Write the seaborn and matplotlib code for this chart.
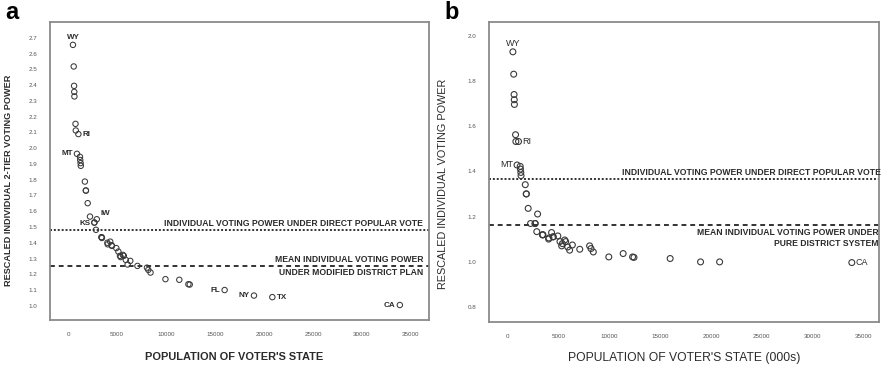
import matplotlib
matplotlib.use("Agg")
import numpy as np
import pandas as pd
import matplotlib.pyplot as plt
from matplotlib.ticker import MultipleLocator
import seaborn as sns

# ------------------------------
# data (population in thousands, rescaled voting power)
# ------------------------------
states = ["WY", "DC", "VT", "AK", "ND", "SD", "DE", "MT", "RI", "HI", "NH", "ME", "ID",
          "NE", "WV", "NM", "NV", "UT", "AR", "KS", "MS", "IA", "CT", "OR", "OK",
          "SC", "KY", "CO", "AL", "LA", "MN", "AZ", "MD", "WI", "MO", "TN", "WA",
          "IN", "MA", "VA", "NC", "GA", "NJ", "MI", "OH", "PA", "IL", "FL", "NY",
          "TX", "CA"]
population = [494, 572, 609, 627, 642, 755, 784, 902, 1048, 1212, 1236, 1275, 1294,
              1711, 1808, 1819, 1998, 2233, 2673, 2688, 2845, 2926, 3406, 3421, 3451,
              4012, 4042, 4301, 4447, 4469, 4919, 5131, 5296, 5364, 5595, 5689, 5894,
              6080, 6349, 7079, 8049, 8186, 8414, 9938, 11353, 12281, 12419, 15982,
              18976, 20852, 33872]

# panel a: two-tier voting power under modified district plan
power_a = [2.655, 2.518, 2.395, 2.357, 2.328, 2.154, 2.112, 1.964, 2.089, 1.945, 1.925,
           1.905, 1.888, 1.788, 1.731, 1.731, 1.651, 1.566, 1.528, 1.528, 1.482, 1.549,
           1.435, 1.435, 1.430, 1.400, 1.390, 1.407, 1.384, 1.380, 1.366, 1.344, 1.317,
           1.309, 1.323, 1.317, 1.291, 1.262, 1.285, 1.253, 1.242, 1.228, 1.211, 1.169,
           1.165, 1.137, 1.135, 1.100, 1.065, 1.055, 1.005]

# panel b: voting power under pure district system
power_b = [1.929, 1.830, 1.740, 1.717, 1.696, 1.562, 1.532, 1.428, 1.532, 1.422, 1.410,
           1.395, 1.381, 1.341, 1.300, 1.300, 1.236, 1.169, 1.169, 1.169, 1.133, 1.211,
           1.119, 1.119, 1.119, 1.100, 1.105, 1.129, 1.110, 1.110, 1.114, 1.089, 1.070,
           1.080, 1.096, 1.089, 1.065, 1.051, 1.074, 1.055, 1.070, 1.058, 1.043, 1.021,
           1.036, 1.021, 1.019, 1.014, 0.999, 0.999, 0.996]

direct_a, district_a = 1.482, 1.253
direct_b, district_b = 1.366, 1.163

df = pd.DataFrame({"state": states, "pop": population, "a": power_a, "b": power_b})

# ------------------------------
# figure
# ------------------------------
sns.set_style("white")
plt.rcParams['font.family'] = ['Liberation Sans', 'DejaVu Sans']

W, H = 881, 366
fig = plt.figure(figsize=(W / 100, H / 100), dpi=100)
ax1 = fig.add_axes([50 / W, 1 - 320 / H, (429 - 50) / W, (320 - 22) / H])
ax2 = fig.add_axes([489 / W, 1 - 322 / H, (879 - 489) / W, (322 - 22) / H])

TXT = '#2b2b2b'
PT = '#3a3a3a'

for ax in (ax1, ax2):
    for s in ax.spines.values():
        s.set_color('#8a8a8a')
        s.set_linewidth(1.3)
    ax.tick_params(direction='out', length=3, width=0.8, color='#555555',
                   labelsize=4.5, labelcolor='#555555', pad=6)

# ── Panel a ──
sns.scatterplot(data=df, x="pop", y="a", ax=ax1, s=15, marker='o',
                facecolors='none', edgecolor=PT, linewidth=0.75, legend=False)
ax1.axhline(direct_a, color='#333333', lw=1.4, ls=(0, (1, 1)))
ax1.axhline(district_a, color='#333333', lw=1.4, ls=(0, (2.5, 2)))
ax1.set_xlim(-1850, 36850)
ax1.set_ylim(0.91, 2.80)
ax1.set_xticks(np.arange(0, 35001, 5000))
ax1.set_yticks(np.round(np.arange(1.0, 2.71, 0.1), 1))
ax1.set_yticklabels([f'{v:.1f}' for v in np.arange(1.0, 2.71, 0.1)])
ax1.set_xlabel("POPULATION OF VOTER'S STATE", fontsize=7.9, fontweight='bold',
               color=TXT)
ax1.set_ylabel("RESCALED INDIVIDUAL 2-TIER VOTING POWER", fontsize=6.6,
               fontweight='bold', color=TXT)
ax1.yaxis.set_label_coords(-0.098, 0.47)
ax1.xaxis.set_label_coords(0.487, -0.108)

fs = 6.2
ax1.text(0.985, direct_a + 0.012, "INDIVIDUAL VOTING POWER UNDER DIRECT POPULAR VOTE",
         transform=ax1.get_yaxis_transform(), ha='right', va='bottom',
         fontsize=fs, fontweight='bold', color=TXT)
ax1.text(0.985, district_a + 0.012, "MEAN INDIVIDUAL VOTING POWER",
         transform=ax1.get_yaxis_transform(), ha='right', va='bottom',
         fontsize=fs, fontweight='bold', color=TXT)
ax1.text(0.985, district_a - 0.015, "UNDER MODIFIED DISTRICT PLAN",
         transform=ax1.get_yaxis_transform(), ha='right', va='top',
         fontsize=fs, fontweight='bold', color=TXT)

# state labels (offsets in points)
lab_a = {"WY": (0, 5, 'center'), "RI": (3, 0, 'left'), "MT": (-3, 0, 'right'),
         "KS": (-3, -1, 'right'), "IA": (3, 4, 'left'), "FL": (-3, 0, 'right'),
         "NY": (-3, 0, 'right'), "TX": (3, 0, 'left'), "CA": (-3, 0, 'right')}
for st, (dx, dy, ha) in lab_a.items():
    r = df[df.state == st].iloc[0]
    name = "IW" if st == "IA" else st
    ax1.annotate(name, (r["pop"], r["a"]), xytext=(dx, dy), textcoords='offset points',
                 ha=ha, va='center', fontsize=5.8, fontweight='bold', color=TXT)

# ── Panel b ──
sns.scatterplot(data=df, x="pop", y="b", ax=ax2, s=18, marker='o',
                facecolors='none', edgecolor=PT, linewidth=0.8, legend=False)
ax2.axhline(direct_b, color='#333333', lw=1.4, ls=(0, (1, 1)))
ax2.axhline(district_b, color='#333333', lw=1.4, ls=(0, (2.5, 2)))
ax2.set_xlim(-1860, 36550)
ax2.set_ylim(0.733, 2.061)
ax2.set_xticks(np.arange(0, 35001, 5000))
ax2.xaxis.set_minor_locator(MultipleLocator(2500))
ax2.set_yticks([0.8, 1.0, 1.2, 1.4, 1.6, 1.8, 2.0])
ax2.yaxis.set_minor_locator(MultipleLocator(0.1))
ax2.tick_params(which='minor', direction='out', length=2, width=0.6, color='#777777')
ax2.set_xlabel("POPULATION OF VOTER'S STATE (000s)", fontsize=8.7,
               color=TXT, labelpad=9)
ax2.set_ylabel("RESCALED INDIVIDUAL VOTING POWER", fontsize=7.8, color=TXT)
ax2.yaxis.set_label_coords(-0.105, 0.46)

ax2.text(1.006, direct_b + 0.010, "INDIVIDUAL VOTING POWER UNDER DIRECT POPULAR VOTE",
         transform=ax2.get_yaxis_transform(), ha='right', va='bottom',
         fontsize=fs, fontweight='bold', color=TXT)
ax2.text(0.998, district_b - 0.012, "MEAN INDIVIDUAL VOTING POWER UNDER",
         transform=ax2.get_yaxis_transform(), ha='right', va='top',
         fontsize=fs, fontweight='bold', color=TXT)
ax2.text(0.998, district_b - 0.064, "PURE DISTRICT SYSTEM",
         transform=ax2.get_yaxis_transform(), ha='right', va='top',
         fontsize=fs, fontweight='bold', color=TXT)

lab_b = {"WY": (0, 6, 'center'), "RI": (3, 0, 'left'), "MT": (-3, 0, 'right'),
         "CA": (3, 0, 'left')}
for st, (dx, dy, ha) in lab_b.items():
    r = df[df.state == st].iloc[0]
    ax2.annotate(st, (r["pop"], r["b"]), xytext=(dx, dy), textcoords='offset points',
                 ha=ha, va='center', fontsize=6.5, color=TXT)

# panel tags
fig.text(5 / W, 1 - 19 / H, "a", fontsize=17, fontweight='bold', color='black')
fig.text(444 / W, 1 - 19 / H, "b", fontsize=17, fontweight='bold', color='black')

plt.savefig("out.png", dpi=100, facecolor='white')
plt.close()
